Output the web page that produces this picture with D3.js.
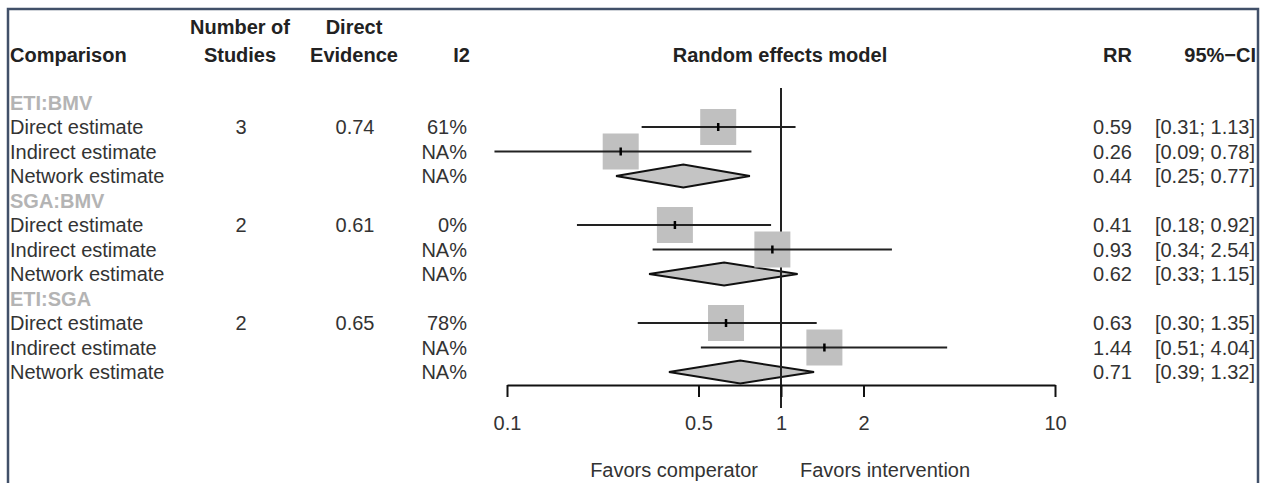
<!DOCTYPE html>
<html>
<head>
<meta charset="utf-8">
<script src="https://cdn.jsdelivr.net/npm/d3@7"></script>
<style>
  body { margin: 0; background: #fff; }
  svg text { font-family: "Liberation Sans", Arial, Helvetica, sans-serif; }
</style>
</head>
<body>
<svg id="chart" width="1267" height="483"></svg>
<script>
// comparisons and rows
const groups = ['ETI:BMV', 'SGA:BMV', 'ETI:SGA'];
const rowLabels = ['Direct estimate', 'Indirect estimate', 'Network estimate'];
const nStudies = ['3', '2', '2'];
const directEvidence = ['0.74', '0.61', '0.65'];
const i2 = [
    ['61%', 'NA%', 'NA%'],
    ['0%', 'NA%', 'NA%'],
    ['78%', 'NA%', 'NA%']
];
// risk ratios and 95% CI
const rr = [
    [0.59, 0.26, 0.44],
    [0.41, 0.93, 0.62],
    [0.63, 1.44, 0.71]
];
const lower = [
    [0.31, 0.09, 0.25],
    [0.18, 0.34, 0.33],
    [0.30, 0.51, 0.39]
];
const upper = [
    [1.13, 0.78, 0.77],
    [0.92, 2.54, 1.15],
    [1.35, 4.04, 1.32]
];
const xTicks = [0.1, 0.5, 1, 2, 10];

const svg = d3.select('#chart');
const textColor = '#333';
const fs = 20;

// frame
svg.append('path')
    .attr('d', 'M8,483 V9 H1258 V483')
    .attr('fill', 'none')
    .attr('stroke', '#415069')
    .attr('stroke-width', 2.5);

// build flat row list
const rows = [];
groups.forEach((g, gi) => {
    rows.push({ type: 'header', label: g });
    rowLabels.forEach((l, ri) => {
        rows.push({
            type: ri === 2 ? 'network' : 'study',
            label: l,
            n: ri === 0 ? nStudies[gi] : '',
            ev: ri === 0 ? directEvidence[gi] : '',
            i2: i2[gi][ri],
            rr: rr[gi][ri],
            lo: lower[gi][ri],
            hi: upper[gi][ri]
        });
    });
});
rows.forEach((r, i) => r.idx = i);

const y = d3.scaleLinear().domain([0, 11]).range([102.5, 372]);
const x = d3.scaleLog().domain([0.1, 10]).range([507, 1055]);

const txt = (xp, yp, s, anchor, opts = {}) => svg.append('text')
    .attr('x', xp)
    .attr('y', yp)
    .attr('text-anchor', anchor)
    .attr('font-size', fs)
    .attr('font-weight', opts.bold ? 'bold' : 'normal')
    .attr('fill', opts.color || textColor)
    .text(s);

// column headers
txt(10, 62, 'Comparison', 'start', { bold: true, color: '#222' });
txt(240, 34, 'Number of', 'middle', { bold: true, color: '#222' });
txt(240, 62, 'Studies', 'middle', { bold: true, color: '#222' });
txt(354, 34, 'Direct', 'middle', { bold: true, color: '#222' });
txt(354, 62, 'Evidence', 'middle', { bold: true, color: '#222' });
txt(470, 62, 'I2', 'end', { bold: true, color: '#222' });
txt(780, 62, 'Random effects model', 'middle', { bold: true, color: '#222' });
txt(1132, 62, 'RR', 'end', { bold: true, color: '#222' });
txt(1256, 62, '95%\u2212CI', 'end', { bold: true, color: '#222' });

// table text
rows.forEach(r => {
    const by = y(r.idx) + 7;
    if (r.type === 'header') {
        txt(10, by, r.label, 'start', { bold: true, color: '#b4b4b4' });
        return;
    }
    txt(10, by, r.label, 'start');
    if (r.n) txt(241, by, r.n, 'middle');
    if (r.ev) txt(355, by, r.ev, 'middle');
    txt(467, by, r.i2, 'end');
    txt(1132, by, r.rr.toFixed(2), 'end');
    txt(1255, by, `[${r.lo.toFixed(2)}; ${r.hi.toFixed(2)}]`, 'end');
});

const est = rows.filter(r => r.type !== 'header');

// network diamonds
svg.selectAll('.diamond')
    .data(est.filter(r => r.type === 'network'))
    .join('polygon')
    .attr('class', 'diamond')
    .attr('points', r => {
        const cy = y(r.idx);
        return [[x(r.lo), cy], [x(r.rr), cy - 11.5], [x(r.hi), cy], [x(r.rr), cy + 11.5]].join(' ');
    })
    .attr('fill', '#c4c4c4')
    .attr('stroke', '#111')
    .attr('stroke-width', 2);

// line of no effect
svg.append('line')
    .attr('x1', x(1)).attr('x2', x(1))
    .attr('y1', 88).attr('y2', 408)
    .attr('stroke', '#222')
    .attr('stroke-width', 2);

const studies = est.filter(r => r.type === 'study');

svg.selectAll('.sq')
    .data(studies)
    .join('rect')
    .attr('class', 'sq')
    .attr('x', r => x(r.rr) - 18)
    .attr('y', r => y(r.idx) - 18)
    .attr('width', 36)
    .attr('height', 36)
    .attr('fill', '#c0c0c0');

svg.selectAll('.ci')
    .data(studies)
    .join('line')
    .attr('class', 'ci')
    .attr('x1', r => x(r.lo))
    .attr('x2', r => x(r.hi))
    .attr('y1', r => y(r.idx))
    .attr('y2', r => y(r.idx))
    .attr('stroke', '#222')
    .attr('stroke-width', 2);

svg.selectAll('.pt')
    .data(studies)
    .join('line')
    .attr('class', 'pt')
    .attr('x1', r => x(r.rr))
    .attr('x2', r => x(r.rr))
    .attr('y1', r => y(r.idx) - 4)
    .attr('y2', r => y(r.idx) + 4)
    .attr('stroke', '#000')
    .attr('stroke-width', 2.5);

// x axis
const axisG = svg.append('g')
    .attr('transform', 'translate(0,385)')
    .call(d3.axisBottom(x)
        .tickValues(xTicks)
        .tickFormat(d => d)
        .tickSize(12)
        .tickSizeOuter(0)
        .tickPadding(19));
axisG.select('.domain').attr('stroke', '#111').attr('stroke-width', 2);
axisG.selectAll('.tick line').attr('stroke', '#111').attr('stroke-width', 2);
axisG.selectAll('.tick text')
    .attr('font-size', fs)
    .attr('fill', textColor)
    .attr('font-family', '"Liberation Sans", Arial, Helvetica, sans-serif');

txt(758, 477, 'Favors comperator', 'end');
txt(800, 477, 'Favors intervention', 'start');
</script>
</body>
</html>
